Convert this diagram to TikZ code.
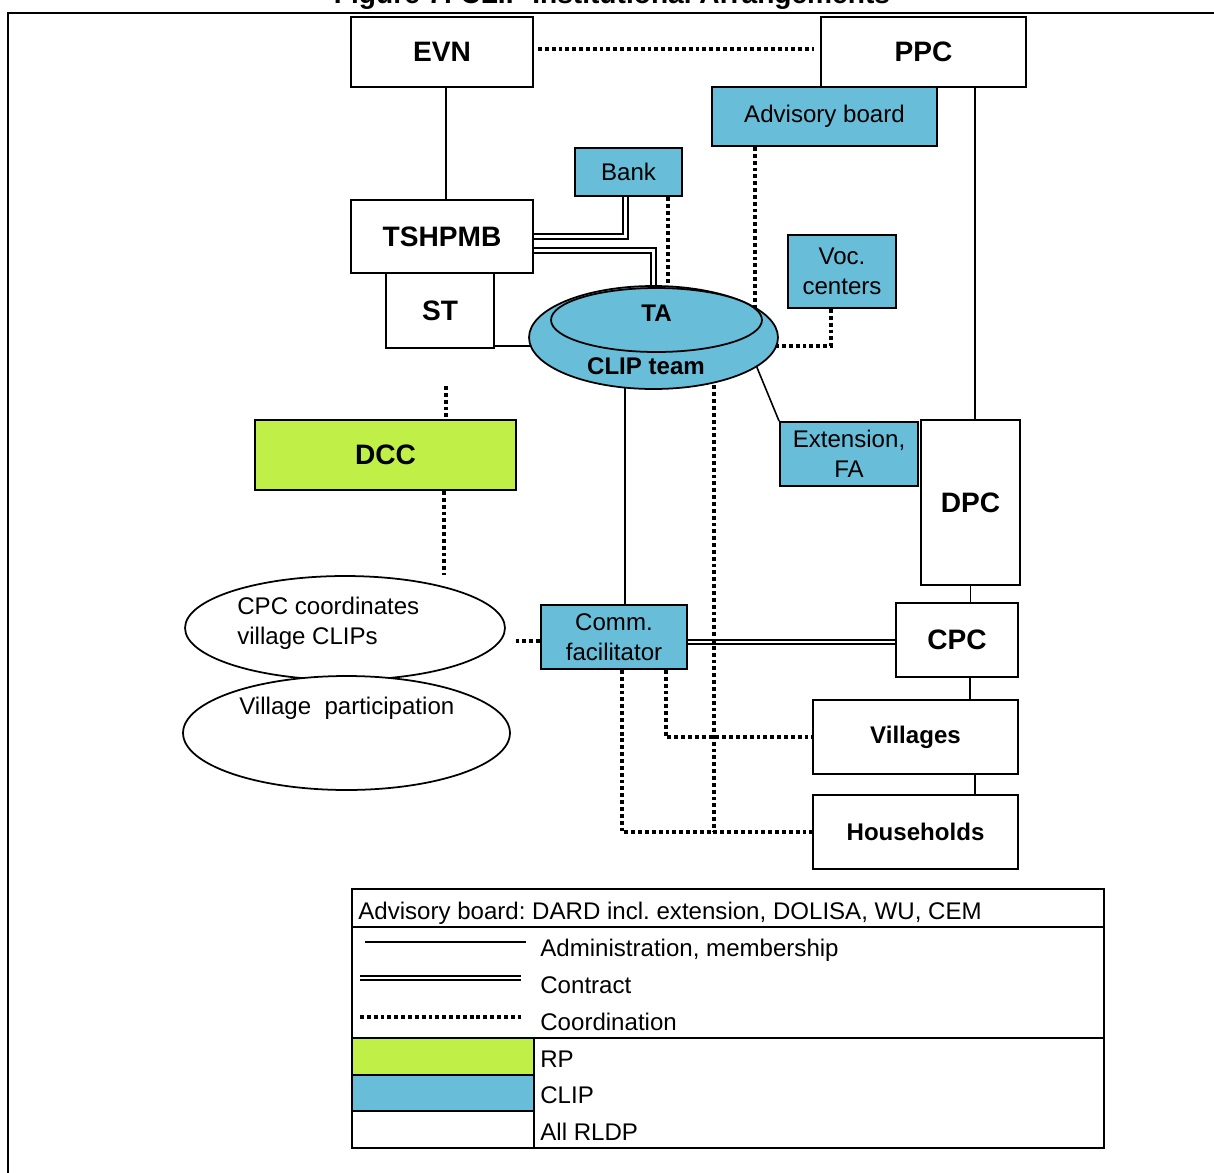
\documentclass[tikz,border=0pt]{standalone}
\usepackage{fontspec}
\setmainfont{Liberation Sans}
\usetikzlibrary{shapes.geometric,backgrounds}
\definecolor{clipblue}{RGB}{104,189,216}
\definecolor{rpgreen}{RGB}{192,239,72}
\frenchspacing

\begin{document}
\begin{tikzpicture}
		[
			x=0.02cm, y=-0.02cm,
			align=center,
			font=\fontsize{13.7}{17}\selectfont,
			box/.style={draw, line width=1.1pt, fill=white, inner sep=0pt},
			clipbox/.style={box, fill=clipblue},
			big/.style={font=\fontsize{16}{19}\selectfont\bfseries},
			boldtxt/.style={font=\fontsize{13.7}{17}\selectfont\bfseries},
			oval/.style={ellipse, draw, line width=1pt, fill=white, inner sep=0pt},
			txt/.style={draw=none, fill=none, inner sep=0pt},
			admin/.style={line width=0.9pt},
			contract/.style={double, line width=1.1pt, double distance=1.4pt},
			coordline/.style={line width=2.2pt, dash pattern=on 2.2pt off 1.7pt}
		]

		\useasboundingbox (0,0) rectangle (1214,1173);

		% frame and title
		\node[txt, anchor=base, big] (title) at (612,4) {Figure 7: CLIP Institutional Arrangements};
		\draw[line width=1.1pt] (1214,13) -| (8,1173);

		% bodies
		\node[box, big, minimum width=3.64cm, minimum height=1.40cm] (evn) at (442,52) {EVN};
		\node[box, big, minimum width=4.10cm, minimum height=1.40cm] (ppc) at (923.5,52) {PPC};
		\node[clipbox, minimum width=4.50cm, minimum height=1.18cm] (adv) at (824.5,116.5) {Advisory board};
		\node[clipbox, minimum width=2.14cm, minimum height=0.96cm] (bank) at (628.5,172) {Bank};
		\node[box, big, minimum width=3.64cm, minimum height=1.46cm] (tshpmb) at (442,236.5) {TSHPMB};
		\node[box, big, minimum width=2.16cm, minimum height=1.50cm] (st) at (440,310.5) {ST};
		\node[clipbox, minimum width=2.16cm, minimum height=1.46cm] (voc) at (842,271.5) {Voc.\\centers};
		\node[box, big, fill=rpgreen, minimum width=5.22cm, minimum height=1.40cm] (dcc) at (385.5,455) {DCC};
		\node[clipbox, minimum width=2.76cm, minimum height=1.28cm] (ext) at (849,454) {Extension,\\FA};
		\node[box, big, minimum width=1.98cm, minimum height=3.30cm] (dpc) at (970.5,502.5) {DPC};
		\node[clipbox, minimum width=2.92cm, minimum height=1.28cm] (comm) at (614,637) {Comm.\\facilitator};
		\node[box, big, minimum width=2.44cm, minimum height=1.48cm] (cpc) at (957,640) {CPC};
		\node[box, boldtxt, minimum width=4.10cm, minimum height=1.48cm] (villages) at (915.5,737) {Villages};
		\node[box, boldtxt, minimum width=4.10cm, minimum height=1.48cm] (households) at (915.5,832) {Households};

		% CLIP team
		\node[oval, fill=clipblue, minimum width=4.98cm, minimum height=2.06cm] (clip) at (653.5,337.5) {};
		\node[oval, fill=clipblue, boldtxt, minimum width=4.22cm, minimum height=1.28cm,
			text height=0.2cm, text depth=0.14cm] (ta) at (656.5,320) {TA};
		\node[txt, boldtxt] (cliptext) at (646,366) {CLIP team};

		% commune and village level
		\node[oval, minimum width=6.40cm, minimum height=2.08cm] (cpcclip) at (345,628) {};
		\node[oval, minimum width=6.54cm, minimum height=2.28cm] (village) at (346.5,733) {};
		\node[txt, anchor=west, align=left] (cpcclip text) at (237,623) {CPC coordinates\\village CLIPs};
		\node[txt, anchor=west] (village text) at (239,708) {Village\ \ participation};

		% links
		\begin{scope}[on background layer]
			% administration, membership
			\draw[admin] ([xshift=0.08cm]evn.south) -- ([xshift=0.08cm]tshpmb.north);
			\draw[admin] ([xshift=0.09cm]dpc.north) -- ([xshift=0.09cm]dpc.north |- ppc.south);
			\draw[admin] ([yshift=-0.71cm]st.east) -- ([yshift=-0.71cm]st.east -| clip.center);
			\draw[admin] (clip.-16) -- (ext.north west);
			\draw[admin] ([xshift=0.22cm]comm.north) -- ([xshift=0.22cm]comm.north |- clip.center);
			\draw[admin] (dpc.south) -- (dpc.south |- cpc.north);
			\draw[admin] ([xshift=0.26cm]cpc.south) -- ([xshift=0.26cm]cpc.south |- villages.north);
			\draw[admin] ([xshift=1.19cm]villages.south) -- ([xshift=1.19cm]households.north);

			% contract
			\draw[contract] ([xshift=-0.06cm]bank.south) |- (tshpmb.east);
			\draw[contract] ([yshift=-0.28cm]tshpmb.east) -| (clip.north);
			\draw[contract] ([yshift=-0.1cm]comm.east) -- ([yshift=-0.1cm]comm.east -| cpc.west);

			% coordination
			\draw[coordline, shorten <=0.08cm, shorten >=0.12cm] ([yshift=0.06cm]evn.east) -- ([yshift=0.06cm]evn.east -| ppc.west);
			\draw[coordline] ([xshift=-1.39cm]adv.south) -- ([xshift=-1.39cm]adv.south |- clip.center);
			\draw[coordline] ([xshift=0.79cm]bank.south) -- ([xshift=0.79cm]bank.south |- clip.north);
			\draw[coordline] ([xshift=-0.22cm]voc.south) |- ([yshift=-0.17cm]clip.center);
			\draw[coordline] ([xshift=1.21cm]clip.center) -- ([xshift=1.21cm]clip.center |- households.west);
			\draw[coordline] ([xshift=0.16cm]comm.south) |- (households.west);
			\draw[coordline] ([xshift=1.04cm]comm.south) |- (villages.west);
			\draw[coordline, shorten >=0.16cm] ([yshift=-0.08cm]comm.west) -- ([yshift=-0.08cm]comm.west -| cpcclip.east);
			\draw[coordline, shorten <=0.74cm] ([xshift=1.21cm]dcc.north |- st.south) -- ([xshift=1.21cm]dcc.north);
			\draw[coordline] ([xshift=1.17cm]dcc.south) -- ([xshift=1.17cm]dcc.south |- cpcclip.north);
		\end{scope}

		% legend
		\fill[rpgreen] (352,1038) rectangle (534,1075);
		\fill[clipblue] (352,1075) rectangle (534,1111);
		\draw[line width=1.6pt] (352,889) rectangle (1104,1148);
		\draw[line width=1.6pt] (352,927) -- (1104,927) (352,1038) -- (1104,1038)
			(352,1075) -- (534,1075) (352,1111) -- (534,1111) (534,1038) -- (534,1148);
		\draw[admin] (365,942) -- (526,942);
		\draw[contract] (360,978) -- (521,978);
		\draw[coordline] (360,1017) -- (522,1017);
		\node[txt, anchor=base west] (legtitle) at (358,919) {Advisory board: DARD incl. extension, DOLISA, WU, CEM};
		\node[txt, anchor=base west] (legadmin) at (540,956) {Administration, membership};
		\node[txt, anchor=base west] (legcontract) at (540,993) {Contract};
		\node[txt, anchor=base west] (legcoord) at (540,1030) {Coordination};
		\node[txt, anchor=base west] (legrp) at (540,1067) {RP};
		\node[txt, anchor=base west] (legclip) at (540,1103) {CLIP};
		\node[txt, anchor=base west] (legall) at (540,1140) {All RLDP};

	\end{tikzpicture}
\end{document}
